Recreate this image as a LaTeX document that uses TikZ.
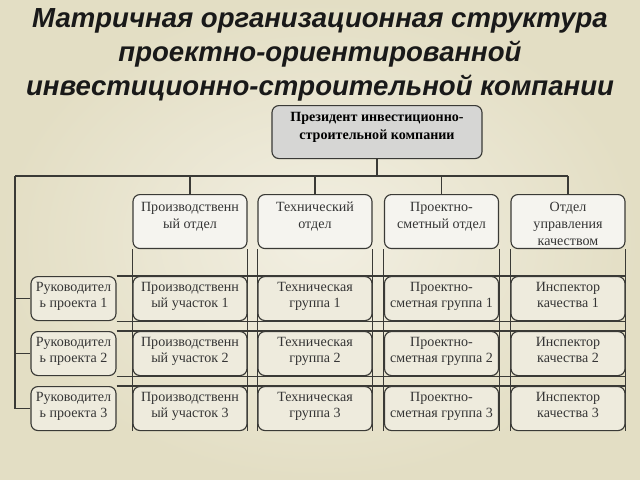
\documentclass[tikz,border=0pt]{standalone}
\usepackage{fontspec}
\setmainfont{Liberation Serif}
\newfontfamily\headfont{Liberation Sans}
\usetikzlibrary{positioning}

\definecolor{paper}{HTML}{E3DEC4}
\definecolor{paperhi}{HTML}{F2EFE2}
\definecolor{wiregray}{HTML}{3A3A36}
\definecolor{deptfill}{HTML}{F5F4EF}
\definecolor{cellfill}{HTML}{EEEBDD}
\definecolor{presfill}{HTML}{D6D6D4}
\definecolor{inkgray}{HTML}{353535}

\pgfdeclarelayer{paperlayer}
\pgfdeclarelayer{gridlayer}
\pgfsetlayers{paperlayer,gridlayer,main}

% lines hung from the first baseline
\newcommand\lines[1]{\begin{tabular}[t]{@{}c@{}}#1\end{tabular}}

\begin{document}
\begin{tikzpicture}[x=0.025cm, y=-0.025cm,
    wire/.style={draw=wiregray, line width=0.8pt},
    box/.style={draw=wiregray, line width=0.8pt, rounded corners=5pt, anchor=north,
      text=inkgray, inner ysep=0pt, inner xsep=0pt,
      font=\fontsize{10}{12}\selectfont},
    dept/.style={box, fill=deptfill, minimum width=2.85cm, text height=12pt, text depth=26.4pt},
    cell/.style={box, fill=cellfill, minimum width=2.85cm, text height=10.3pt, text depth=21pt},
    lead/.style={cell, minimum width=2.125cm},
    head/.style={box, fill=presfill, text=black, minimum width=5.25cm, text height=11.4pt,
      text depth=26.3pt, font=\bfseries\fontsize{10}{13}\selectfont},
    title/.style={align=center, text=black!90, font=\headfont\bfseries\itshape\fontsize{19.6}{24}\selectfont}]

  \begin{pgfonlayer}{paperlayer}
    \shade[inner color=paperhi, outer color=paper] (0,0) rectangle (640,480);
  \end{pgfonlayer}
  \useasboundingbox (0,0) rectangle (640,480);

  \node[title] (title) at (320,55) {Матричная организационная структура\\проектно-ориентированной\\инвестиционно-строительной компании};

  \node[head] (pres) at (377,105) {\lines{Президент инвестиционно-\\строительной компании}};

  \node[dept] (d1) at (190,194) {\lines{Производственн\\ый отдел}};
  \node[dept] (d2) at (315,194) {\lines{Технический\\отдел}};
  \node[dept] (d3) at (441.5,194) {\lines{Проектно-\\сметный отдел}};
  \node[dept] (d4) at (568,194) {\lines{Отдел\\управления\\качеством}};

  \foreach \i/\y in {1/276,2/331,3/386}{
    \node[lead] (m\i) at (73.5,\y) {\lines{Руководител\\ь проекта \i}};
    \node[cell] (p\i) at (190,\y) {\lines{Производственн\\ый участок \i}};
    \node[cell] (t\i) at (315,\y) {\lines{Техническая\\группа \i}};
    \node[cell] (s\i) at (441.5,\y) {\lines{Проектно-\\сметная группа \i}};
    \node[cell] (q\i) at (568,\y) {\lines{Инспектор\\качества \i}};
  }

  % matrix lines behind the cells
  \begin{pgfonlayer}{gridlayer}
    \foreach \d in {d1,d2,d3,d4}{
      \draw[wire] (\d.south west) -- (\d.south west |- m3.south);
      \draw[wire] (\d.south east) -- (\d.south east |- m3.south);
    }
    \foreach \i in {1,2,3}
      \draw[wire] (m\i.north east) -- (m\i.north east -| d4.east);
    \foreach \i in {1,2}
      \draw[wire] (m\i.south east) -- (m\i.south east -| d4.east);
  \end{pgfonlayer}

  % links from the president
  \coordinate (bus) at (15,176);
  \draw[wire] (pres.south) -- (pres.south |- bus);
  \draw[wire] (bus) -- (bus -| d4.north);
  \foreach \d in {d1,d2,d3,d4}
    \draw[wire] (bus -| \d.north) -- (\d.north);
  \foreach \i in {1,2,3}
    \draw[wire] (bus) |- (m\i.west);
\end{tikzpicture}
\end{document}
